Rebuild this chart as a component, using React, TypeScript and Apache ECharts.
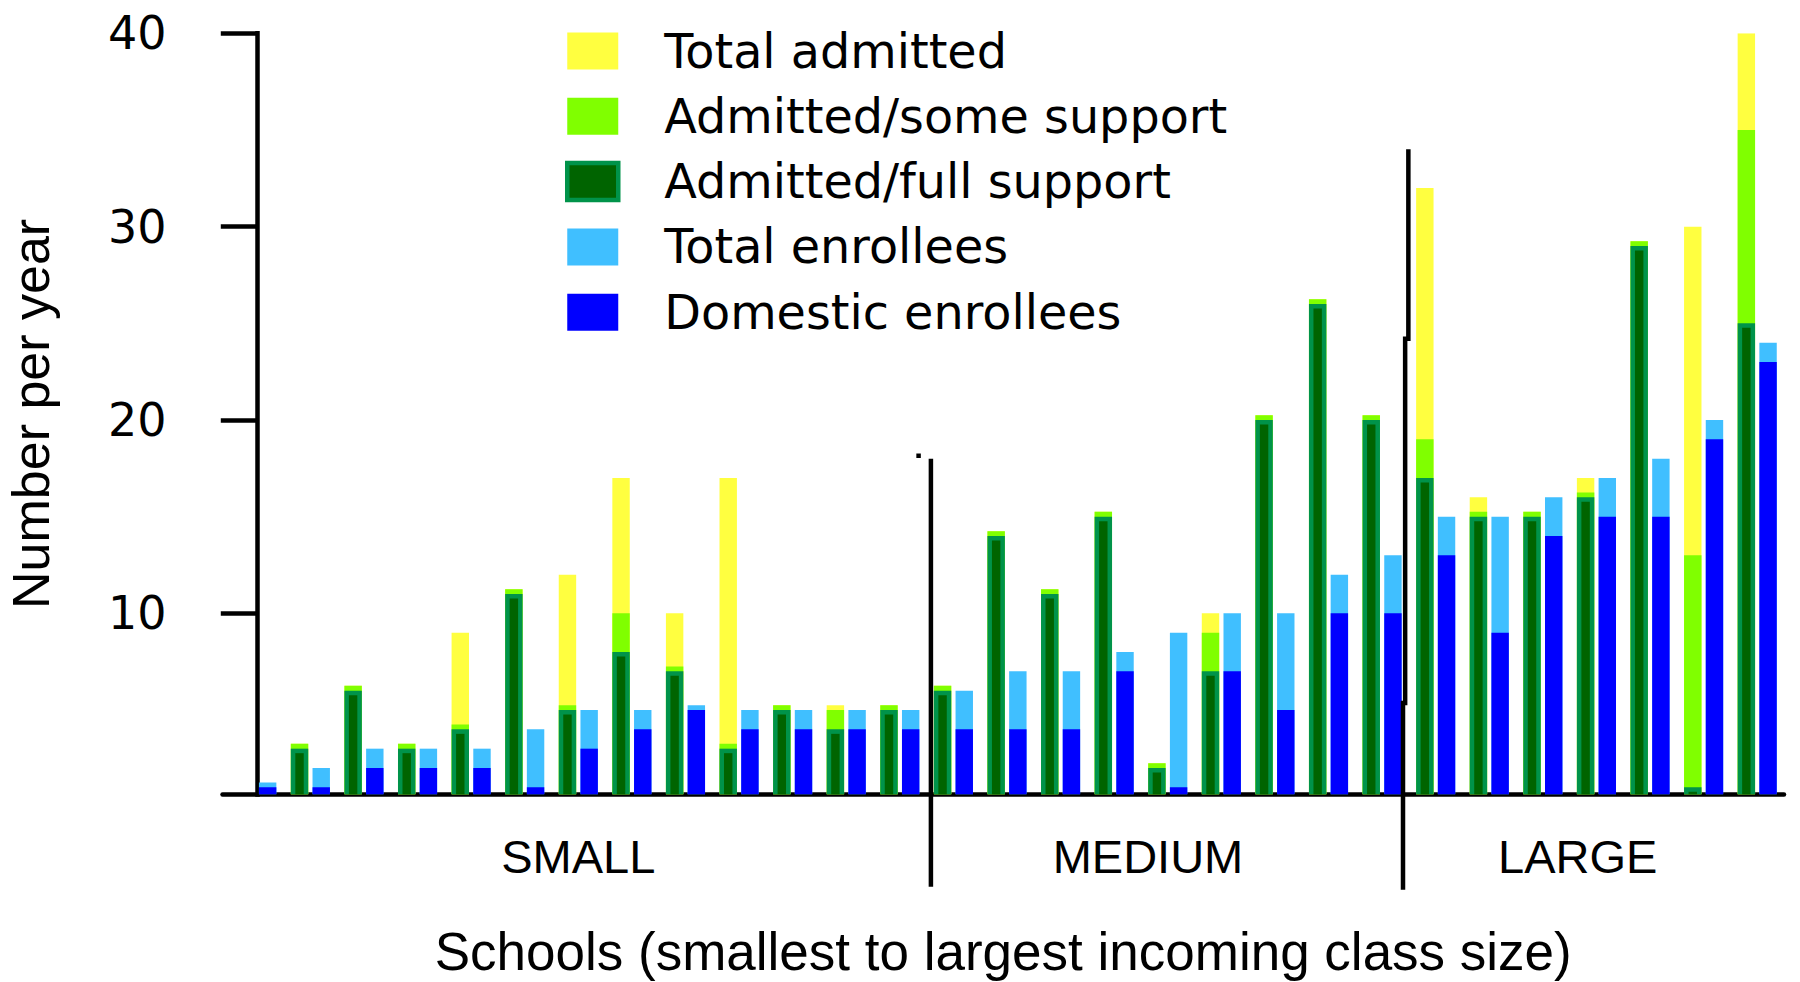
import React, { useEffect, useRef } from "react";
import * as echarts from "echarts";

// ---------- data ----------
const schools = Array.from({ length: 29 }, (_, i) => `School ${i + 1}`);

const totalAdmitted = [
  0, 3.25, 6.25, 3.25, 9, 11.25, 12, 17, 10, 17, 5.25, 5.25, 5.25,
  6.25, 14.25, 11.25, 15.25, 2.25, 10, 20.25, 26.25, 20.25,
  32, 16, 15.25, 17, 29.25, 30, 40,
];
const admittedSome = [
  0, 3.25, 6.25, 3.25, 4.25, 11.25, 5.25, 10, 7.25, 3.25, 5.25, 5, 5.25,
  6.25, 14.25, 11.25, 15.25, 2.25, 9, 20.25, 26.25, 20.25,
  19, 15.25, 15.25, 16.25, 29.25, 13, 35,
];
const admittedFull = [
  0, 3, 6, 3, 4, 11, 5, 8, 7, 3, 5, 4, 5,
  6, 14, 11, 15, 2, 7, 20, 26, 20,
  17, 15, 15, 16, 29, 1, 25,
];
const totalEnrollees = [
  1.25, 2, 3, 3, 3, 4, 5, 5, 5.25, 5, 5, 5, 5,
  6, 7, 7, 8, 9, 10, 10, 12, 13,
  15, 15, 16, 17, 18, 20, 24,
];
const domesticEnrollees = [
  1, 1, 2, 2, 2, 1, 3, 4, 5, 4, 4, 4, 4,
  4, 4, 4, 7, 1, 7, 5, 10, 10,
  13, 9, 14, 15, 15, 19, 23,
];

const yTicks = [10, 20, 30, 40];
const groupNames = ["SMALL", "MEDIUM", "LARGE"];
const groupLabelAt = [6.0, 16.63, 24.65];

// divider polylines in [school index, value] space
const dividerSmallMedium = [
  [12.58, 18.0],
  [12.58, -4.14],
];
const dividerMediumLarge = [
  [21.49, 34.0],
  [21.49, 24.2],
  [21.43, 24.2],
  [21.43, 5.36],
  [21.39, 5.36],
  [21.39, -4.3],
];
const dividerDot = [12.35, 18.15];

// ---------- styles ----------
const C_YELLOW = "#FFFF40";
const C_LIME = "#80FF00";
const C_DARK = "#006400";
const C_FRAME = "#00934A";
const C_SKY = "#40BFFF";
const C_BLUE = "#0000FF";

const BAR_W = 0.325; // fraction of one school slot
const BAR_GAP = 0.08;
const FRAME = 4.5;
const Y_MIN = 0.63;

function barRenderer(side: number, framed: boolean, color: string) {
  return (params: any, api: any) => {
    const idx = api.value(0);
    const val = api.value(1);
    const cs = params.coordSys;
    const base = cs.y + cs.height;
    const pt = api.coord([idx, val]);
    const unit = api.size([1, 0])[0];
    const w = unit * BAR_W;
    const g = unit * BAR_GAP;
    const x = side < 0 ? pt[0] - g / 2 - w : pt[0] + g / 2;
    const top = Math.max(pt[1], cs.y);
    const h = base - top;
    if (!(h > 0)) return null;
    if (framed) {
      const children: any[] = [
        { type: "rect", shape: { x, y: top, width: w, height: h }, style: { fill: C_FRAME } },
      ];
      if (h > FRAME) {
        children.push({
          type: "rect",
          shape: { x: x + FRAME, y: top + FRAME, width: w - 2 * FRAME, height: h - FRAME },
          style: { fill: color },
        });
      }
      return { type: "group", children };
    }
    return { type: "rect", shape: { x, y: top, width: w, height: h }, style: { fill: color } };
  };
}

function toData(arr: number[]) {
  return arr.map((v, i) => [i, v]);
}

export default function App() {
  const ref = useRef<HTMLDivElement>(null);

  useEffect(() => {
    if (!ref.current) return;
    const chart = echarts.init(ref.current, null, { renderer: "svg" });

    const barSeries = (name: string, arr: number[], side: number, color: string, framed = false) => ({
      type: "custom",
      name,
      data: toData(arr),
      encode: { x: 0, y: 1 },
      itemStyle: { color },
      renderItem: barRenderer(side, framed, color),
      silent: true,
      clip: true,
    });

    chart.setOption({
      animation: false,
      backgroundColor: "#ffffff",
      grid: {
        left: 222.5,
        right: 16,
        top: 33.3,
        bottom: 187.5,
        containLabel: false,
        outerBoundsMode: "none",
      },
      legend: {
        orient: "vertical",
        left: 565,
        top: 27,
        padding: 0,
        icon: "rect",
        itemWidth: 51,
        itemHeight: 37,
        itemGap: 17.3,
        selectedMode: false,
        textStyle: {
          fontFamily: "DejaVu Sans",
          fontSize: 47.7,
          color: "#000",
          lineHeight: 37,
          padding: [0, 0, 0, 41],
        },
        data: [
          { name: "Total admitted", itemStyle: { color: C_YELLOW } },
          { name: "Admitted/some support", itemStyle: { color: C_LIME } },
          {
            name: "Admitted/full support",
            itemStyle: { color: C_DARK, borderColor: C_FRAME, borderWidth: 4.5 },
          },
          { name: "Total enrollees", itemStyle: { color: C_SKY } },
          { name: "Domestic enrollees", itemStyle: { color: C_BLUE } },
        ],
      },
      xAxis: {
        type: "value",
        min: -0.64,
        max: 28.5,
        axisLine: { show: true, onZero: false, lineStyle: { color: "#000", width: 4.5 } },
        axisTick: { show: false },
        splitLine: { show: false },
        axisLabel: {
          show: true,
          customValues: groupLabelAt,
          margin: 38,
          fontFamily: "Liberation Sans",
          fontSize: 47,
          lineHeight: 47,
          color: "#000",
          formatter: (v: number) => {
            const k = groupLabelAt.findIndex((p) => Math.abs(p - v) < 0.01);
            return k >= 0 ? groupNames[k] : "";
          },
        },
        name: "Schools (smallest to largest incoming class size)",
        nameLocation: "middle",
        nameGap: 130,
        nameTextStyle: {
          fontFamily: "Liberation Sans",
          fontSize: 53,
          lineHeight: 53,
          color: "#000",
        },
      },
      yAxis: {
        type: "value",
        min: Y_MIN,
        max: 40,
        axisLine: { show: true, lineStyle: { color: "#000", width: 4.5, cap: "square" } },
        axisTick: {
          show: true,
          length: 36,
          customValues: yTicks,
          lineStyle: { color: "#000", width: 4.5 },
        },
        axisLabel: {
          customValues: yTicks,
          margin: 56,
          fontFamily: "DejaVu Sans",
          fontSize: 46,
          color: "#000",
        },
        splitLine: { show: false },
        name: "Number per year",
        nameLocation: "middle",
        nameRotate: 90,
        nameGap: 166,
        nameTextStyle: {
          fontFamily: "Liberation Sans",
          fontSize: 52,
          lineHeight: 52,
          color: "#000",
        },
      },
      series: [
        barSeries("Total admitted", totalAdmitted, -1, C_YELLOW),
        barSeries("Admitted/some support", admittedSome, -1, C_LIME),
        barSeries("Admitted/full support", admittedFull, -1, C_DARK, true),
        barSeries("Total enrollees", totalEnrollees, 1, C_SKY),
        barSeries("Domestic enrollees", domesticEnrollees, 1, C_BLUE),
        {
          type: "custom",
          name: "dividers",
          data: [[0, 0]],
          encode: { x: 0, y: 1 },
          silent: true,
          clip: false,
          z: 5,
          renderItem: (_params: any, api: any) => {
            const children: any[] = [dividerSmallMedium, dividerMediumLarge].map((pts) => ({
              type: "polyline",
              shape: { points: pts.map((p) => api.coord(p)) },
              style: { stroke: "#000", lineWidth: 4.5, fill: "none" },
            }));
            const d = api.coord(dividerDot);
            children.push({
              type: "rect",
              shape: { x: d[0] - 2.25, y: d[1] - 2.25, width: 4.5, height: 4.5 },
              style: { fill: "#000" },
            });
            return { type: "group", children };
          },
        },
      ],
    });

    return () => chart.dispose();
  }, []);

  return (
    <div
      ref={ref}
      style={{ position: "absolute", left: 0, top: 0, width: 1800, height: 982, background: "#fff" }}
    />
  );
}
